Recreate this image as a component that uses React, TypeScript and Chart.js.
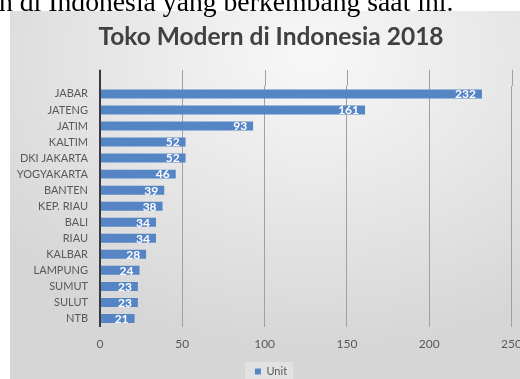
import React, { useEffect, useRef } from "react";
import { Chart, registerables } from "chart.js";

Chart.register(...registerables);

const categories = [
  "JABAR",
  "JATENG",
  "JATIM",
  "KALTIM",
  "DKI JAKARTA",
  "YOGYAKARTA",
  "BANTEN",
  "KEP. RIAU",
  "BALI",
  "RIAU",
  "KALBAR",
  "LAMPUNG",
  "SUMUT",
  "SULUT",
  "NTB",
];
const units = [232, 161, 93, 52, 52, 46, 39, 38, 34, 34, 28, 24, 23, 23, 21];
const xTickMin = 0;
const xTickMax = 250;
const xTickStep = 50;
const seriesName = "Unit";
const titleText = "Toko Modern di Indonesia 2018";
const captionText = "n di Indonesia yang berkembang saat ini.";

const FONT = "Lato, 'Open Sans', 'DejaVu Sans', sans-serif";
const BAR = "#5585c5";
const GRID = "#a0a0a0";
const AXIS = "#3a3a3a";
const TEXT = "#595959";

const gridColor = (v: number) => (v === 0 ? AXIS : GRID);
const gridWidth = (v: number) => (v === 0 ? 2 : 1);

const extendGrid = {
  id: "extendGrid",
  beforeDatasetsDraw(chart: any) {
    const x = chart.scales.x;
    const y = chart.scales.y;
    const step = (y.bottom - y.top) / categories.length;
    const ctx = chart.ctx;
    ctx.save();
    x.ticks.forEach((t: any) => {
      const px = Math.round(x.getPixelForValue(t.value)) + (gridWidth(t.value) % 2 ? 0.5 : 0);
      ctx.strokeStyle = gridColor(t.value);
      ctx.lineWidth = gridWidth(t.value);
      ctx.beginPath();
      ctx.moveTo(px, chart.chartArea.top - step);
      ctx.lineTo(px, chart.chartArea.top);
      ctx.stroke();
    });
    ctx.restore();
  },
};

const valueLabels = {
  id: "valueLabels",
  afterDatasetsDraw(chart: any) {
    const meta = chart.getDatasetMeta(0);
    const ctx = chart.ctx;
    ctx.save();
    ctx.font = `bold 12px ${FONT}`;
    ctx.fillStyle = "#ffffff";
    ctx.textAlign = "right";
    ctx.textBaseline = "middle";
    meta.data.forEach((bar: any, i: number) => {
      ctx.fillText(String(units[i]), bar.x - 6, bar.y + 0.5);
    });
    ctx.restore();
  },
};

const legendBg = {
  id: "legendBg",
  beforeDraw(chart: any) {
    const lg = chart.legend;
    if (!lg || !lg.legendHitBoxes || !lg.legendHitBoxes.length) return;
    const hb = lg.legendHitBoxes[0];
    const ctx = chart.ctx;
    ctx.save();
    ctx.fillStyle = "rgba(255,255,255,0.3)";
    ctx.fillRect(hb.left - 10, hb.top - 4, hb.width + 16, chart.height - hb.top + 4);
    ctx.restore();
  },
};

export default function App() {
  const ref = useRef<HTMLCanvasElement>(null);

  useEffect(() => {
    if (!ref.current) return;
    const chart = new Chart(ref.current, {
      type: "bar",
      data: {
        labels: categories,
        datasets: [
          {
            label: seriesName,
            data: units,
            backgroundColor: BAR,
            borderWidth: 0,
            categoryPercentage: 1,
            barPercentage: 0.56,
          },
        ],
      },
      plugins: [legendBg, extendGrid, valueLabels],
      options: {
        indexAxis: "y",
        responsive: false,
        animation: false,
        layout: { padding: { left: 0, right: 0, top: 0, bottom: -8 } },
        scales: {
          x: {
            type: "linear",
            min: xTickMin,
            max: xTickMax,
            ticks: {
              stepSize: xTickStep,
              padding: 10,
              color: TEXT,
              font: { family: FONT, size: 12 },
            },
            grid: {
              drawTicks: false,
              color: (c: any) => gridColor(c.tick.value),
              lineWidth: (c: any) => gridWidth(c.tick.value),
            },
            border: { display: false },
            afterFit: (s: any) => {
              s.height = 38.5;
            },
          },
          y: {
            type: "category",
            ticks: {
              padding: 12,
              color: TEXT,
              font: { family: FONT, size: 11 },
              autoSkip: false,
            },
            grid: { display: false, drawTicks: false },
            border: { display: false },
            afterFit: (s: any) => {
              s.width = 90;
            },
          },
          yRight: {
            type: "linear",
            position: "right",
            display: true,
            ticks: { display: false },
            grid: { display: false, drawTicks: false },
            border: { display: false },
            afterFit: (s: any) => {
              s.width = 19;
            },
          },
        },
        plugins: {
          title: {
            display: true,
            text: titleText,
            color: "#404040",
            font: { family: FONT, size: 24.5, weight: "bold" },
            padding: { top: 11.3, bottom: 34.2 },
          },
          legend: {
            position: "bottom",
            labels: {
              color: TEXT,
              font: { family: FONT, size: 11 },
              boxWidth: 6,
              boxHeight: 6,
              padding: 1,
            },
          },
          tooltip: { enabled: false },
        },
      },
    });
    return () => chart.destroy();
  }, []);

  return (
    <div
      style={{
        position: "fixed",
        left: 0,
        top: 0,
        width: 520,
        height: 379,
        overflow: "hidden",
        background: "#ffffff",
      }}
    >
      <div
        style={{
          position: "absolute",
          left: 10,
          top: 11,
          width: 522,
          height: 368,
          overflow: "hidden",
          background:
            "radial-gradient(ellipse 75% 80% at 58% 12%, #f8f8f8 0%, #e9e9e9 45%, #d6d6d6 100%)",
        }}
      >
        <canvas ref={ref} width={522} height={368} style={{ display: "block" }} />
      </div>
      <div
        style={{
          position: "absolute",
          left: -1,
          top: -12,
          fontFamily: "'Liberation Serif', 'DejaVu Serif', serif",
          fontSize: 27.7,
          lineHeight: "27.7px",
          color: "#000",
          whiteSpace: "nowrap",
        }}
      >
        {captionText}
      </div>
    </div>
  );
}
